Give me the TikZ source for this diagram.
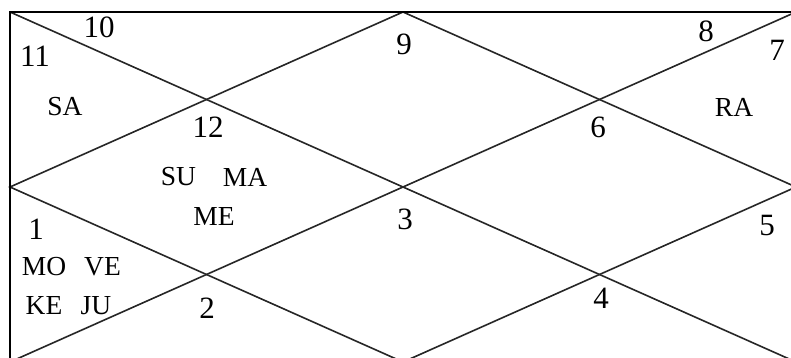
\documentclass[tikz,border=0pt]{standalone}
\usepackage{fontspec}
\setmainfont{Liberation Serif}
\begin{document}
\begin{tikzpicture}[x=1pt,y=-1pt,
  chartline/.style={line width=1.6pt,draw=black!85},
  framebox/.style={line width=1.8pt,draw=black},
  num/.style={inner sep=0pt,anchor=center,font=\fontsize{31}{34}\selectfont},
  planet/.style={inner sep=0pt,anchor=center,font=\fontsize{27.5}{30}\selectfont}]
\useasboundingbox (0,0) rectangle (791,358);
\clip (0,0) rectangle (791,358);
\fill[white] (0,0) rectangle (791,358);
% chart geometry
\coordinate (TL) at (10,12);
\coordinate (TR) at (796,12);
\coordinate (BL) at (10,362);
\coordinate (BR) at (796,362);
\coordinate (TM) at (403,12);
\coordinate (BM) at (403,362);
\coordinate (LM) at (10,187);
\coordinate (RM) at (796,187);
\draw[chartline] (TL) -- (BR);
\draw[chartline] (TR) -- (BL);
\draw[chartline] (TM) -- (RM) -- (BM) -- (LM) -- cycle;
\draw[framebox] (TL) rectangle (BR);
% house numbers
\node[num] (n10) at (99,27.5) {10};
\node[num] (n11) at (35,56) {11};
\node[num] (n9) at (404,44) {9};
\node[num] (n8) at (706,31) {8};
\node[num] (n7) at (777,50) {7};
\node[num] (n12) at (208,127) {12};
\node[num] (n6) at (598,127) {6};
\node[num] (n3) at (405,219) {3};
\node[num] (n1) at (36,229) {1};
\node[num] (n5) at (767,226) {5};
\node[num] (n2) at (207,308) {2};
\node[num] (n4) at (601,298) {4};
% planets
\node[planet] (sa) at (65,107) {SA};
\node[planet] (ra) at (734,107) {RA};
\node[planet] (su) at (178.5,177) {SU};
\node[planet] (ma) at (245,177) {MA};
\node[planet] (me) at (214,216) {ME};
\node[planet] (mo) at (44,266.5) {MO};
\node[planet] (ve) at (102.5,266.5) {VE};
\node[planet] (ke) at (44,305.5) {KE};
\node[planet] (ju) at (96,305.5) {JU};
\end{tikzpicture}
\end{document}
